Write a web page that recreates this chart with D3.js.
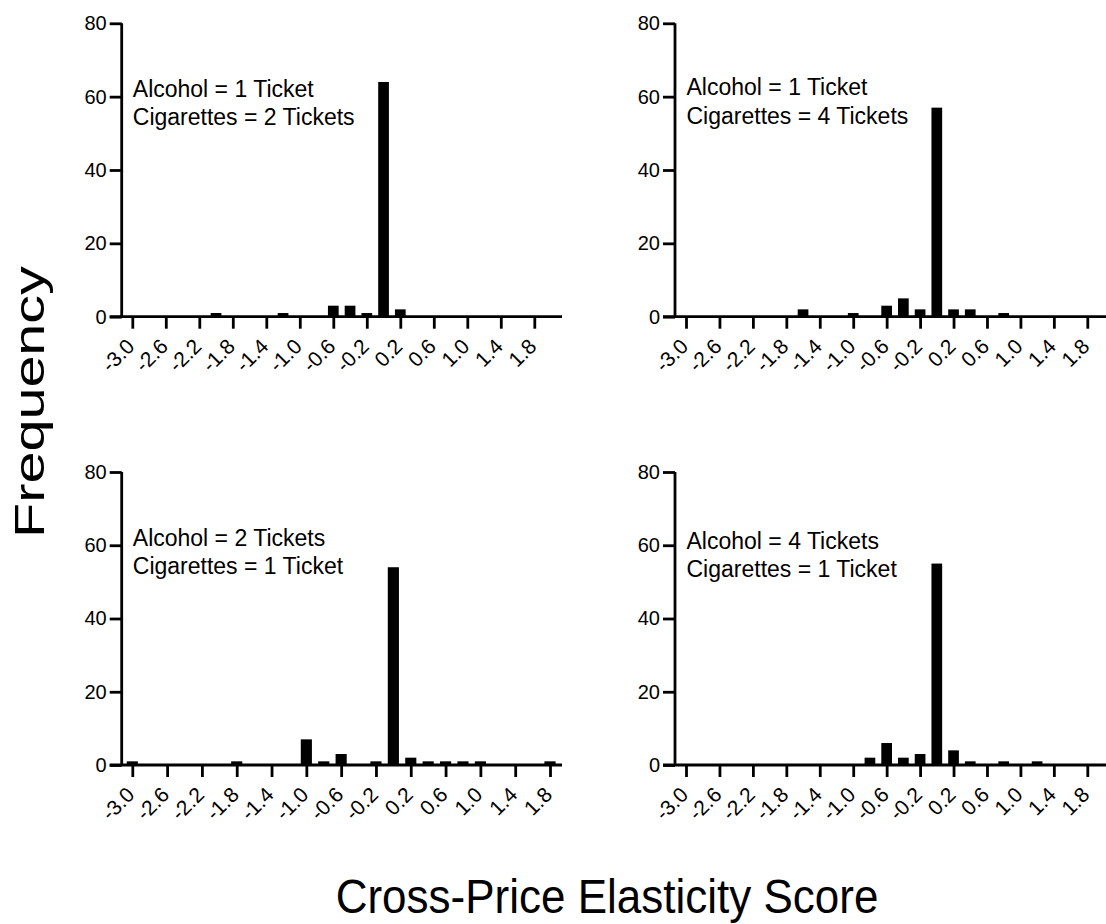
<!DOCTYPE html>
<html>
<head>
<meta charset="utf-8">
<script src="https://cdn.jsdelivr.net/npm/d3@7"></script>
<style>
  body { margin: 0; background: #fff; }
  svg { display: block; font-family: "Liberation Sans", Arial, Helvetica, sans-serif; }
</style>
</head>
<body>
<svg id="chart" width="1106" height="924"></svg>
<script>
// bin centres of the histogram (elasticity score)
var bins = [-3.0, -2.8, -2.6, -2.4, -2.2, -2.0, -1.8, -1.6, -1.4, -1.2, -1.0, -0.8, -0.6,
  -0.4, -0.2, 0.0, 0.2, 0.4, 0.6, 0.8, 1.0, 1.2, 1.4, 1.6, 1.8];

var countsA1C2 = [0, 0, 0, 0, 0, 1, 0, 0, 0, 1, 0, 0, 3, 3, 1, 64, 2, 0, 0, 0, 0, 0, 0, 0, 0];
var countsA1C4 = [0, 0, 0, 0, 0, 0, 0, 2, 0, 0, 1, 0, 3, 5, 2, 57, 2, 2, 0, 1, 0, 0, 0, 0, 0];
var countsA2C1 = [1, 0, 0, 0, 0, 0, 1, 0, 0, 0, 7, 1, 3, 0, 1, 54, 2, 1, 1, 1, 1, 0, 0, 0, 1];
var countsA4C1 = [0, 0, 0, 0, 0, 0, 0, 0, 0, 0, 0, 2, 6, 2, 3, 55, 4, 1, 0, 1, 0, 1, 0, 0, 0];

var xTicks = [-3.0, -2.6, -2.2, -1.8, -1.4, -1.0, -0.6, -0.2, 0.2, 0.6, 1.0, 1.4, 1.8];
var xTickLabels = ["-3.0", "-2.6", "-2.2", "-1.8", "-1.4", "-1.0", "-0.6", "-0.2", "0.2", "0.6", "1.0", "1.4", "1.8"];
var yTicks = [0, 20, 40, 60, 80];

var panelLabels = [
  ["Alcohol = 1 Ticket", "Cigarettes = 2 Tickets"],
  ["Alcohol = 1 Ticket", "Cigarettes = 4 Tickets"],
  ["Alcohol = 2 Tickets", "Cigarettes = 1 Ticket"],
  ["Alcohol = 4 Tickets", "Cigarettes = 1 Ticket"]
];
var panelCounts = [countsA1C2, countsA1C4, countsA2C1, countsA4C1];

// where each small chart sits on the page
var layout = [
  { axisX: 121.7, top: 23.3, bottom: 316.7, x0: 132.3, x1: 534.3, end: 562, textDy: 0 },
  { axisX: 675, top: 23.3, bottom: 316.7, x0: 686, x1: 1087.3, end: 1106, textDy: -1.5 },
  { axisX: 121.7, top: 472, bottom: 765, x0: 132.3, x1: 550, end: 562, textDy: 0.5 },
  { axisX: 675, top: 472, bottom: 765, x0: 686, x1: 1087.3, end: 1106, textDy: 3.5 }
];

var svg = d3.select("#chart");
var strokeW = 2.8;

panelCounts.forEach(function (counts, i) {
  var L = layout[i];
  var g = svg.append("g");

  var x = d3.scaleLinear().domain([xTicks[0], xTicks[xTicks.length - 1]]).range([L.x0, L.x1]);
  var y = d3.scaleLinear().domain([0, 80]).range([L.bottom, L.top]);
  var barW = x(0.128) - x(0);

  var data = bins.map(function (b, j) { return { bin: b, n: counts[j] }; });

  g.selectAll("rect.bar")
    .data(data.filter(d => d.n > 0))
    .enter().append("rect")
    .attr("class", "bar")
    .attr("x", d => x(d.bin) - barW / 2)
    .attr("width", barW)
    .attr("y", d => y(d.n))
    .attr("height", d => y(0) - y(d.n))
    .attr("fill", "#000");

  // y axis
  var yAxis = d3.axisLeft(y)
    .tickValues(yTicks)
    .tickSize(12)
    .tickSizeOuter(0)
    .tickPadding(3);

  var ya = g.append("g")
    .attr("transform", `translate(${L.axisX},0)`)
    .call(yAxis);
  ya.select(".domain").attr("stroke-width", strokeW).attr("d", `M0,${L.top}V${L.bottom}`);
  ya.selectAll(".tick line").attr("stroke-width", strokeW);
  ya.selectAll(".tick text")
    .attr("font-size", 20)
    .attr("font-family", "Liberation Sans, Arial, sans-serif")
    .attr("fill", "#000");

  // x axis
  var xAxis = d3.axisBottom(x)
    .tickValues(xTicks)
    .tickFormat((d, k) => xTickLabels[k])
    .tickSize(12)
    .tickSizeOuter(0);

  var xa = g.append("g")
    .attr("transform", `translate(0,${L.bottom})`)
    .call(xAxis);
  xa.select(".domain").attr("stroke-width", strokeW).attr("d", `M${L.axisX - 12},0H${L.end}`);
  xa.selectAll(".tick line").attr("stroke-width", strokeW);
  xa.selectAll(".tick text")
    .attr("font-size", 21)
    .attr("font-family", "Liberation Sans, Arial, sans-serif")
    .attr("fill", "#000")
    .attr("text-anchor", "end")
    .attr("dy", null)
    .attr("y", null)
    .attr("transform", "translate(3,31) rotate(-45)");

  // condition label
  var t = g.append("text")
    .attr("x", x(xTicks[0]) + 0.5)
    .attr("y", y(60) + L.textDy)
    .attr("font-size", 23)
    .attr("fill", "#000");
  t.selectAll("tspan")
    .data(panelLabels[i])
    .enter().append("tspan")
    .attr("x", x(xTicks[0]) + 0.5)
    .attr("dy", (d, k) => k ? 28.4 : 0)
    .text(d => d);
});

// axis titles (a little stretched, like the original figure)
svg.append("text")
  .attr("transform", "translate(44,402) rotate(-90) scale(1.37,1)")
  .attr("text-anchor", "middle")
  .attr("font-size", 42)
  .text("Frequency");

svg.append("text")
  .attr("transform", "translate(607,913) scale(1,1.1)")
  .attr("text-anchor", "middle")
  .attr("font-size", 44)
  .text("Cross-Price Elasticity Score");
</script>
</body>
</html>
